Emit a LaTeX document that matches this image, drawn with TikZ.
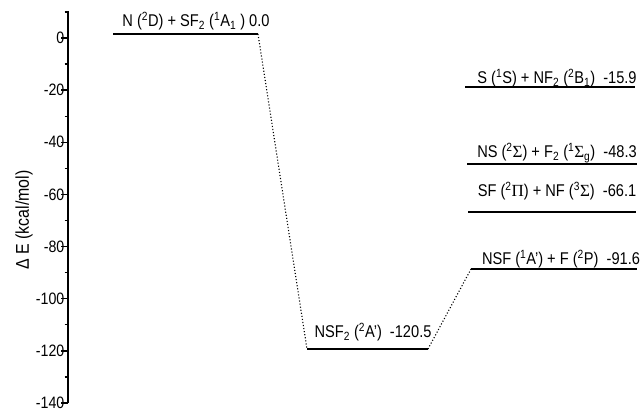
\documentclass[tikz,border=0pt]{standalone}
\usepackage{fontspec}
\setmainfont{Liberation Sans}[FakeStretch=0.86]
\newfontfamily\grk{Liberation Serif}
\begin{document}
\begin{tikzpicture}[x=1pt,y=-1pt,
  level/.style={line width=2.3pt},
  conn/.style={line width=1.1pt,dotted},
  lab/.style={font=\fontsize{17}{17}\selectfont,inner sep=0pt,anchor=base},
  ticklab/.style={font=\fontsize{16.5}{16.5}\selectfont,inner sep=0pt,anchor=east},
  axisline/.style={line width=1.4pt}]
\useasboundingbox (0,0) rectangle (643,411);
% axis
\coordinate (atop) at (68,11);
\coordinate (abot) at (68,403);
\draw[axisline] (atop) -- (abot);
\foreach \v in {0,-20,-40,-60,-80,-100,-120,-140}{
  \pgfmathsetmacro{\yy}{38-\v*2.607}
  \draw[axisline] (61,\yy) -- (68,\yy);
  \node[ticklab] (t\v) at (64.5,\yy) {\v};
}
\foreach \v in {10,-10,-30,-50,-70,-90,-110,-130}{
  \pgfmathsetmacro{\yy}{38-\v*2.607}
  \draw[axisline] (64.5,\yy) -- (68,\yy);
}
\node[rotate=90,font=\fontsize{18.5}{18.5}\selectfont,inner sep=0pt] (ylab) at (24,220) {Δ E (kcal/mol)};
% levels
\coordinate (aL) at (113,34);  \coordinate (aR) at (258,34);
\coordinate (bL) at (465,87);  \coordinate (bR) at (635,87);
\coordinate (cL) at (467,164); \coordinate (cR) at (637,164);
\coordinate (dL) at (468,212); \coordinate (dR) at (636,212);
\coordinate (eL) at (471,269); \coordinate (eR) at (637,269);
\coordinate (fL) at (307,349); \coordinate (fR) at (428,349);
\foreach \n in {a,b,c,d,e,f}{\draw[level] (\n L) -- (\n R);}
% labels
\node[lab] (la) at (196,27) {N (\textsuperscript{2}D) + SF\textsubscript{2} (\textsuperscript{1}A\textsubscript{1} ) 0.0};
\node[lab] (lb) at (557,84) {S (\textsuperscript{1}S) + NF\textsubscript{2} (\textsuperscript{2}B\textsubscript{1})\ \ -15.9};
\node[lab] (lc) at (557,158) {NS (\textsuperscript{2}{\grk Σ}) + F\textsubscript{2} (\textsuperscript{1}{\grk Σ}\textsubscript{g})\ \ -48.3};
\node[lab] (ld) at (557,197) {SF (\textsuperscript{2}{\grk Π}) + NF (\textsuperscript{3}{\grk Σ})\ \ -66.1};
\node[lab] (le) at (561,265) {NSF (\textsuperscript{1}A') + F (\textsuperscript{2}P)\ \ -91.6};
\node[lab] (lf) at (373,338) {NSF\textsubscript{2} (\textsuperscript{2}A')\ \ -120.5};
% connectors
\draw[conn] (aR) -- (fL);
\draw[conn] (fR) -- (eL);
\end{tikzpicture}
\end{document}
